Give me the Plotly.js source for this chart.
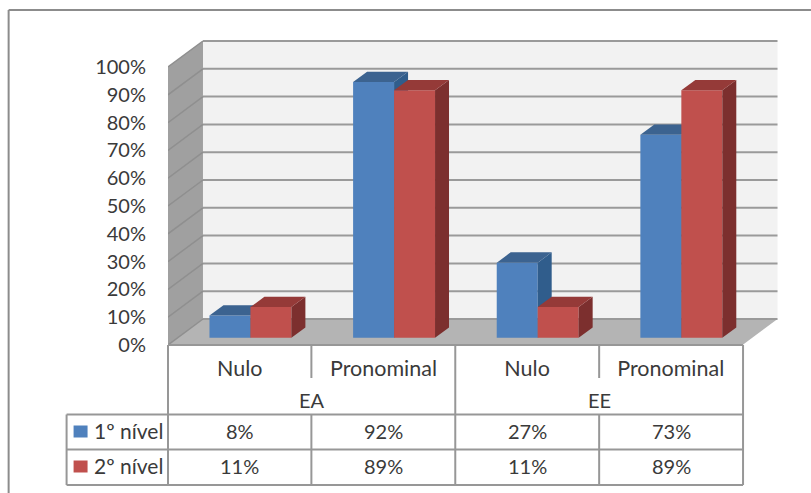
<!DOCTYPE html>
<html>
<head>
<meta charset="utf-8">
<title>Nulo e pronominal por nível</title>
<script src="https://cdn.plot.ly/plotly-3.0.1.min.js"></script>
<style>html,body{margin:0;padding:0;background:#fff;overflow:hidden}</style>
</head>
<body>
<div id="chart" style="width:811px;height:493px"></div>
<script>
// Chart data
const groups = ["EA", "EE"];
const categories = ["Nulo", "Pronominal", "Nulo", "Pronominal"];
const seriesNames = ["1º nível", "2º nível"];
const nivel1 = [8, 92, 27, 73];
const nivel2 = [11, 89, 11, 89];
const yTicks = [0, 10, 20, 30, 40, 50, 60, 70, 80, 90, 100];

// Page geometry, in pixels
const W = 811, H = 493;
const plotL = 167.5, plotR = 790, plotT = 30, plotB = 345;
const pxPerCat = 143.75, pxPerPct = 2.78;
const px2x = p => (p - plotL) / pxPerCat;
const py2y = p => (plotB - p) / pxPerPct;
const paperX = p => (p - plotL) / (plotR - plotL);
const paperY = p => (plotB - p) / (plotB - plotT);

// Oblique depth of the chart box and of each column
const wallDx = 35 / pxPerCat, wallDy = 26 / pxPerPct;
const barDx = 14 / pxPerCat, barDy = 10.3 / pxPerPct;
const barW = 41 / pxPerCat, barInset = 41.5 / pxPerCat, barBase = 7.3 / pxPerPct;

const font = "Lato, 'Open Sans', sans-serif";
const fontSize = 20, wordSize = 21;
const textColor = "#3a3a3a";
const ruleColor = "#979797";
const styles = [
  {front: "#4f81bd", top: "#3c6390", side: "#305d8c"},
  {front: "#c0504d", top: "#953a38", side: "#7c2f2e"}
];

// One column: front face as a bar, top and side faces as filled polygons
function columnTraces(values, s, name) {
  const st = styles[s];
  const left = values.map((_, i) => i + barInset + s * barW);
  const z = 1 + s * 2;
  const topX = [], topY = [], sideX = [], sideY = [];
  values.forEach((v, i) => {
    const a = left[i], b = a + barW, t = barBase + v;
    topX.push(a, b, b + barDx, a + barDx, a, null);
    topY.push(t, t, t + barDy, t + barDy, t, null);
    sideX.push(b, b + barDx, b + barDx, b, b, null);
    sideY.push(t, t + barDy, barBase + barDy, barBase, t, null);
  });
  const face = (x, y, color) => ({
    type: "scatter", mode: "lines", x, y, fill: "toself", fillcolor: color,
    line: {width: 0, color}, hoverinfo: "skip", showlegend: false, zorder: z + 1
  });
  return [
    {type: "bar", name, x: left.map(a => a + barW / 2), y: values,
     base: values.map(() => barBase), width: barW,
     marker: {color: st.front, line: {width: 0}}, showlegend: false, zorder: z},
    face(sideX, sideY, st.side),
    face(topX, topY, st.top)
  ];
}

const traces = [
  ...columnTraces(nivel1, 0, seriesNames[0]),
  ...columnTraces(nivel2, 1, seriesNames[1])
];

// Box walls, floor and gridlines
const n = categories.length;
const poly = pts => "M" + pts.map(p => p.join(",")).join("L") + "Z";
const shapes = [
  {type: "path", layer: "below", xref: "x", yref: "y", line: {width: 0}, fillcolor: "#f2f2f2",
   path: poly([[wallDx, wallDy], [n + wallDx, wallDy], [n + wallDx, 100 + wallDy], [wallDx, 100 + wallDy]])},
  {type: "path", layer: "below", xref: "x", yref: "y", line: {width: 0}, fillcolor: "#a0a0a0",
   path: poly([[0, 0], [wallDx, wallDy], [wallDx, 100 + wallDy], [0, 100]])},
  {type: "path", layer: "below", xref: "x", yref: "y", line: {width: 0}, fillcolor: "#b4b4b4",
   path: poly([[0, 0], [n, 0], [n + wallDx, wallDy], [wallDx, wallDy]])}
];
yTicks.forEach(v => {
  shapes.push({type: "line", layer: "below", xref: "x", yref: "y",
    x0: wallDx, x1: n + wallDx, y0: v + wallDy, y1: v + wallDy,
    line: {color: "#9a9a9a", width: 2}});
  shapes.push({type: "line", layer: "below", xref: "x", yref: "y",
    x0: 0, x1: wallDx, y0: v, y1: v + wallDy,
    line: {color: "#8f8f8f", width: 1.5}});
});

// Rules in page pixels: outer frame and data table
function rule(x0, y0, x1, y1, color, width) {
  shapes.push({type: "line", xref: "paper", yref: "paper",
    x0: paperX(x0), x1: paperX(x1), y0: paperY(y0), y1: paperY(y1),
    line: {color: color || ruleColor, width: width || 2}});
}
rule(8, 10, W, 10, "#8c8c8c", 2);
rule(8, 10, 8, H, "#8c8c8c", 2);

const colX = [167.5, 311, 455, 599, 743];
const rowY = {axis: 345, cat: 378, group: 414.5, r1: 449.5, r2: 485};
rule(colX[0], rowY.axis, colX[4], rowY.axis);
rule(colX[0], rowY.axis, colX[0], rowY.r2);
rule(colX[2], rowY.axis, colX[2], rowY.r2);
rule(colX[4], rowY.axis, colX[4], rowY.r2);
rule(colX[1], rowY.axis, colX[1], rowY.cat);
rule(colX[3], rowY.axis, colX[3], rowY.cat);
rule(colX[1], rowY.group, colX[1], rowY.r2);
rule(colX[3], rowY.group, colX[3], rowY.r2);
rule(66, rowY.group, 66, rowY.r2);
[rowY.group, rowY.r1, rowY.r2].forEach(y => rule(66, y, colX[4], y));

const annotations = [];
function label(text, x, y, anchor, size) {
  annotations.push({text, xref: "paper", yref: "paper", x: paperX(x), y: paperY(y),
    xanchor: anchor || "center", yanchor: "middle", showarrow: false,
    font: {family: font, size: size || fontSize, color: textColor}});
}
groups.forEach((g, i) => label(g, (colX[i * 2] + colX[i * 2 + 2]) / 2, 400));
[[nivel1, 430.5], [nivel2, 466]].forEach(([vals, y]) => {
  vals.forEach((v, i) => label(v + "%", (colX[i] + colX[i + 1]) / 2, y));
});
seriesNames.forEach((name, i) => {
  const y = i === 0 ? 431.5 : 466.5;
  label(name, 91, y - 1, "left", wordSize);
  shapes.push({type: "rect", xref: "paper", yref: "paper", line: {width: 0},
    fillcolor: styles[i].front,
    x0: paperX(73), x1: paperX(87), y0: paperY(y - 6), y1: paperY(y + 6)});
});

const layout = {
  width: W, height: H, autosize: false,
  margin: {l: plotL, r: W - plotR, t: plotT, b: H - plotB, pad: 0},
  paper_bgcolor: "#ffffff", plot_bgcolor: "rgba(0,0,0,0)",
  barmode: "overlay", showlegend: false,
  font: {family: font, size: fontSize, color: textColor},
  xaxis: {
    range: [0, px2x(plotR)], tickmode: "array",
    tickvals: categories.map((_, i) => i + 0.5), ticktext: categories,
    showgrid: false, zeroline: false, showline: false,
    ticks: "outside", ticklen: 4, tickcolor: "rgba(0,0,0,0)",
    tickfont: {family: font, size: 21.5, color: textColor}
  },
  yaxis: {
    range: [0, py2y(plotT)], tickmode: "array",
    tickvals: yTicks, ticktext: yTicks.map(v => v + "%"),
    showgrid: false, zeroline: false, showline: false,
    ticks: "outside", ticklen: 17, tickcolor: "rgba(0,0,0,0)",
    tickfont: {family: font, size: fontSize, color: textColor}
  },
  shapes, annotations
};

Plotly.newPlot("chart", traces, layout, {displayModeBar: false, staticPlot: true});
</script>
</body>
</html>
